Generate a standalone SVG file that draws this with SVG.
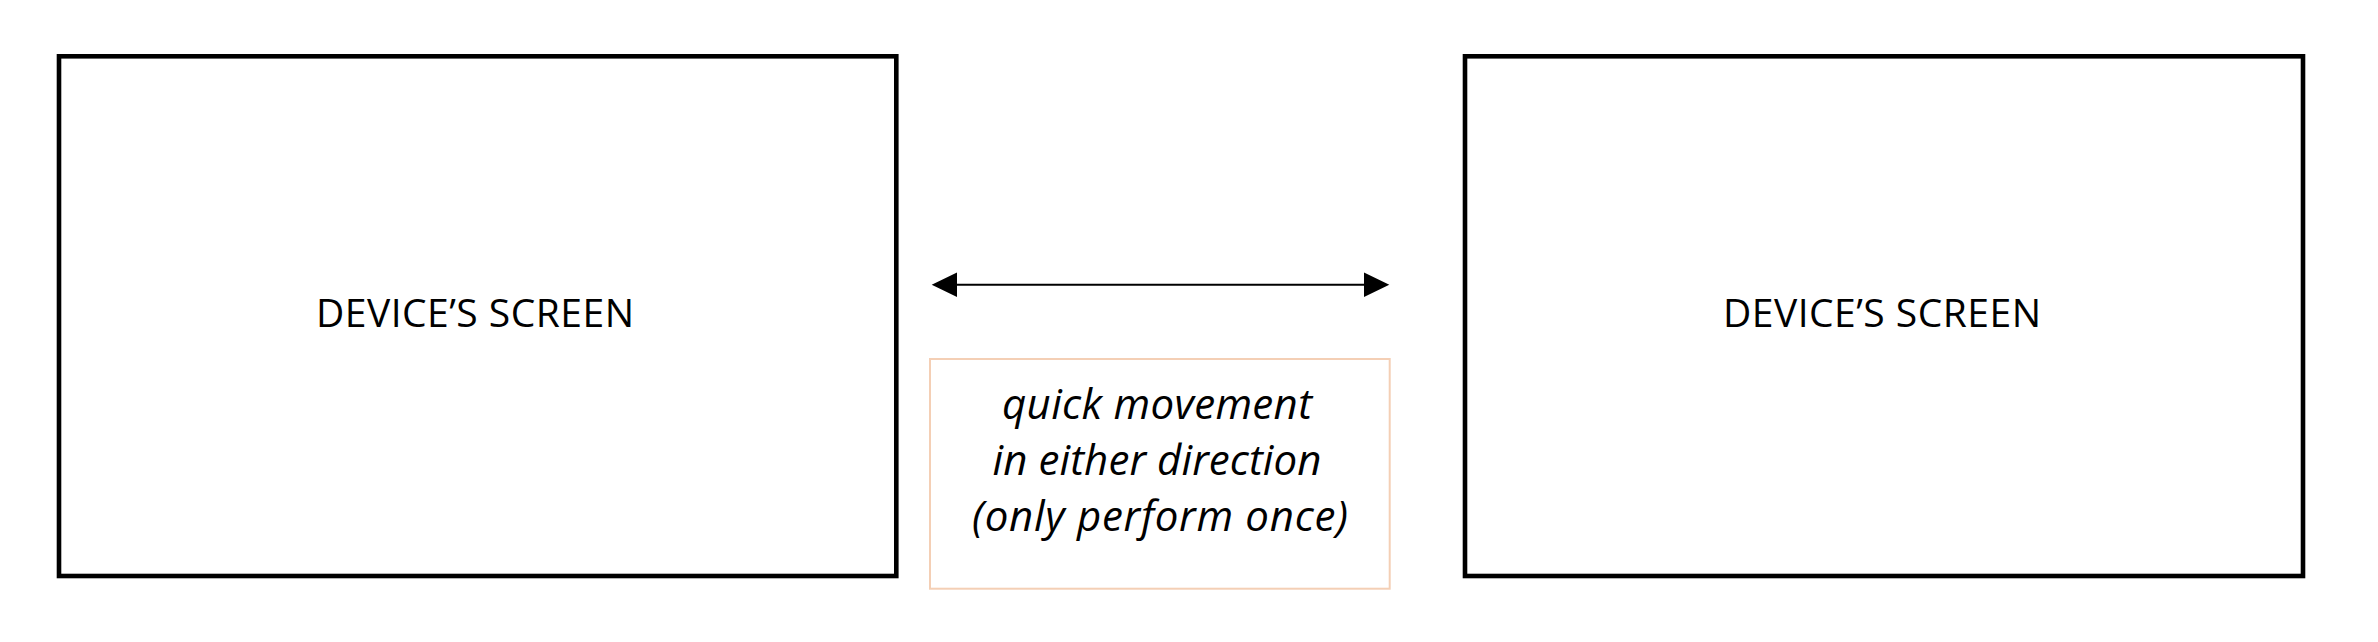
<svg xmlns="http://www.w3.org/2000/svg" width="2378" height="642" viewBox="0 0 2378 642">
<style>
.screen{fill:#fff;stroke:#000;stroke-width:4.6}
.label{font-family:"Open Sans","Liberation Sans",sans-serif;font-size:39px;fill:#000;text-anchor:middle}
.note{fill:#fff;stroke:#F4CFB5;stroke-width:2}
.notetext{font-family:"Open Sans","Liberation Sans",sans-serif;font-style:italic;font-size:42px;fill:#000;text-anchor:middle}
.conn{stroke:#000;stroke-width:2;fill:none}
</style>
<defs>
<marker id="arr" markerUnits="userSpaceOnUse" markerWidth="26" markerHeight="26" viewBox="0 -13 26 26" refX="0" refY="0" orient="auto-start-reverse">
<path d="M0,-12.3 L25.3,0 L0,12.3 z" fill="#000"/>
</marker>
</defs>
<rect width="2378" height="642" fill="#fff"/>
<g id="screen-left">
<rect class="screen" x="59" y="56.3" width="837.3" height="519.7"/>
<text class="label" x="475" y="327" textLength="318" lengthAdjust="spacing">DEVICE’S SCREEN</text>
</g>
<g id="screen-right">
<rect class="screen" x="1465" y="56.3" width="838" height="519.7"/>
<text class="label" x="1882" y="327" textLength="318" lengthAdjust="spacing">DEVICE’S SCREEN</text>
</g>
<g id="note">
<rect class="note" x="930" y="359" width="459.7" height="229.7"/>
<text class="notetext" x="1157" y="419" textLength="310" lengthAdjust="spacing">quick movement</text>
<text class="notetext" x="1157" y="475" textLength="329" lengthAdjust="spacing">in either direction</text>
<text class="notetext" x="1160" y="531" textLength="376" lengthAdjust="spacing">(only perform once)</text>
</g>
<g id="connectors">
<line class="conn" x1="957" y1="284.7" x2="1364" y2="284.7" marker-start="url(#arr)" marker-end="url(#arr)"/>
</g>
</svg>
